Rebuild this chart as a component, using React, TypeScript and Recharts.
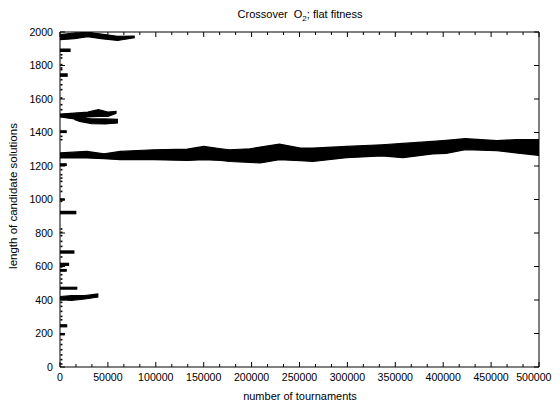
import React from 'react';
import { ComposedChart, Area, Scatter, XAxis, YAxis } from 'recharts';

const FONT = '"Liberation Sans", Arial, Helvetica, sans-serif';
const W = 544;
const H = 397;

// ---- tick labels ----
const xMajorTicks = [0, 50000, 100000, 150000, 200000, 250000, 300000, 350000, 400000, 450000, 500000];
const xMinorTicks = xMajorTicks.slice(0, -1).flatMap((t) => [t + 50000 / 3, t + (2 * 50000) / 3]);
const xAllTicks = [...xMajorTicks, ...xMinorTicks].sort((a, b) => a - b);
const yTicks = [0, 200, 400, 600, 800, 1000, 1200, 1400, 1600, 1800, 2000];

// ---- main band near 1250-1350 (x, lower edge, upper edge) ----
const mainX = [0, 28000, 46000, 63000, 98000, 133000, 150000, 168000, 177000, 198000, 209000, 229000, 251000, 264000, 299000, 336000, 358000, 389000, 403000, 423000, 456000, 476000, 500000];
const mainLo = [1248, 1248, 1244, 1238, 1238, 1233, 1238, 1233, 1227, 1222, 1218, 1238, 1232, 1227, 1250, 1260, 1250, 1272, 1275, 1297, 1292, 1278, 1263];
const mainHi = [1278, 1287, 1273, 1287, 1297, 1301, 1317, 1303, 1297, 1303, 1313, 1331, 1307, 1307, 1317, 1327, 1335, 1347, 1353, 1363, 1352, 1357, 1357];

// ---- cluster near 1950-2000 ----
const topX = [0, 15000, 29000, 43000, 60000, 78000];
const topLo = [1954, 1960, 1972, 1960, 1950, 1966];
const topHi = [1984, 1994, 1998, 1988, 1974, 1976];

// ---- clusters near 1500 ----
const upX = [0, 15000, 29000, 40000, 50000, 59000];
const upLo = [1493, 1481, 1493, 1496, 1496, 1516];
const upHi = [1510, 1516, 1522, 1536, 1522, 1526];

const lowX = [15000, 20500, 33000, 47000, 60500];
const lowLo = [1478, 1466, 1453, 1451, 1457];
const lowHi = [1484, 1487, 1481, 1481, 1478];

// ---- cluster near 410 ----
const b400X = [0, 12000, 26000, 40000];
const b400Lo = [402, 398, 406, 418];
const b400Hi = [421, 426, 426, 436];

// ---- short streaks at the left edge ----
const stubEnd = [11000, 8000, 7000, 7000, 5000, 17000, 15000, 9500, 7000, 18000, 7500, 5000];
const stubLo = [1884, 1736, 1400, 1203, 996, 915, 680, 607, 572, 465, 240, 192];
const stubHi = [1898, 1750, 1410, 1213, 1004, 929, 693, 619, 582, 476, 252, 200];

// ---- isolated points along the left edge ----
const dotX = 1500;
const dotY = [18, 44, 72, 103, 134, 163, 282, 302, 332, 362, 386, 501, 525, 551, 597, 657, 720, 750, 784, 804, 824, 989, 1048, 1078, 1108, 1128, 1148, 1178, 1357, 1377, 1536, 1566, 1606, 1656, 1685, 1715, 1775, 1785, 1805, 1845, 1864];

const band = (xs: number[], lo: number[], hi: number[]) => xs.map((x, i) => ({ x, r: [lo[i], hi[i]] }));

const bands = [
  band(mainX, mainLo, mainHi),
  band(topX, topLo, topHi),
  band(upX, upLo, upHi),
  band(lowX, lowLo, lowHi),
  band(b400X, b400Lo, b400Hi),
  ...stubEnd.map((e, i) => band([0, e], [stubLo[i], stubLo[i]], [stubHi[i], stubHi[i]])),
];
const dots = dotY.map((y) => ({ x: dotX, y }));

const isMajor = (v: number) => xMajorTicks.includes(v);
const lastMajor = xMajorTicks[xMajorTicks.length - 1];

const BottomTick = (props: any) => {
  const { x, y, payload } = props;
  const v = payload.value;
  const major = isMajor(v);
  const isLast = v === lastMajor;
  return (
    <g>
      <line x1={x} x2={x} y1={y} y2={y - (major ? 5 : 3)} stroke="#000" strokeWidth={1} />
      {major && (
        <text
          x={isLast ? W - 0.5 : x}
          y={y + 14}
          textAnchor={isLast ? 'end' : 'middle'}
          fontSize={10.6}
          fontFamily={FONT}
          fill="#000"
        >
          {v}
        </text>
      )}
    </g>
  );
};

const TopTick = (props: any) => {
  const { x, y, payload } = props;
  const major = isMajor(payload.value);
  return <line x1={x} x2={x} y1={y} y2={y + (major ? 5 : 3)} stroke="#000" strokeWidth={1} />;
};

const LeftTick = (props: any) => {
  const { x, y, payload } = props;
  return (
    <g>
      <line x1={x} x2={x + 5} y1={y} y2={y} stroke="#000" strokeWidth={1} />
      <text x={x - 7} y={y + 3.8} textAnchor="end" fontSize={10.6} fontFamily={FONT} fill="#000">
        {payload.value}
      </text>
    </g>
  );
};

const RightTick = (props: any) => {
  const { x, y } = props;
  return <line x1={x} x2={x - 5} y1={y} y2={y} stroke="#000" strokeWidth={1} />;
};

const DotShape = (p: any) => <rect x={p.cx - 1} y={p.cy - 0.8} width={2} height={1.6} fill="#000" />;
const NoShape = () => <g />;

export default function App() {
  return (
    <div style={{ position: 'relative', width: W, height: H, background: '#fff' }}>
      <ComposedChart width={W} height={H} margin={{ top: 23, right: 12, bottom: 0, left: 0 }}>
        <XAxis
          xAxisId="b"
          dataKey="x"
          type="number"
          domain={[0, 500000]}
          allowDataOverflow
          ticks={xAllTicks}
          interval={0}
          tickSize={0}
          tickMargin={0}
          tickLine={false}
          tick={<BottomTick />}
          axisLine={{ stroke: '#000' }}
          height={38}
        />
        <XAxis
          xAxisId="t"
          dataKey="x"
          orientation="top"
          type="number"
          domain={[0, 500000]}
          allowDataOverflow
          ticks={xAllTicks}
          interval={0}
          tickSize={0}
          tickMargin={0}
          tickLine={false}
          tick={<TopTick />}
          axisLine={{ stroke: '#000' }}
          height={1}
        />
        <YAxis
          yAxisId="l"
          type="number"
          domain={[0, 2000]}
          allowDataOverflow
          ticks={yTicks}
          interval={0}
          tickSize={0}
          tickMargin={0}
          tickLine={false}
          tick={<LeftTick />}
          axisLine={{ stroke: '#000' }}
          width={52}
        />
        <YAxis
          yAxisId="r"
          orientation="right"
          type="number"
          domain={[0, 2000]}
          allowDataOverflow
          ticks={yTicks}
          interval={0}
          tickSize={0}
          tickMargin={0}
          tickLine={false}
          tick={<RightTick />}
          axisLine={{ stroke: '#000' }}
          width={1}
        />
        {bands.map((d, i) => (
          <Area
            key={i}
            data={d}
            dataKey="r"
            xAxisId="b"
            yAxisId="l"
            type="linear"
            fill="#000"
            fillOpacity={1}
            stroke="#000"
            strokeWidth={1.2}
            dot={false}
            activeDot={false}
            isAnimationActive={false}
          />
        ))}
        <Scatter data={dots} dataKey="y" xAxisId="b" yAxisId="l" shape={<DotShape />} isAnimationActive={false} />
        <Scatter data={dots} dataKey="y" xAxisId="t" yAxisId="r" shape={<NoShape />} isAnimationActive={false} />
      </ComposedChart>
      <svg width={W} height={H} style={{ position: 'absolute', left: 0, top: 0, pointerEvents: 'none' }}>
        <text x={292} y={10} textAnchor="middle" fontSize={11} fontFamily={FONT} fill="#000">
          <tspan>{'Crossover\u00A0 O'}</tspan>
          <tspan dy={3} fontSize={8}>2</tspan>
          <tspan dy={-3}>; flat fitness</tspan>
        </text>
        <text x={292} y={392} textAnchor="middle" fontSize={11} fontFamily={FONT} fill="#000">
          number of tournaments
        </text>
        <text x={9} y={188} textAnchor="middle" fontSize={11.5} fontFamily={FONT} fill="#000" transform="rotate(-90 9 188)">
          length of candidate solutions
        </text>
      </svg>
    </div>
  );
}
